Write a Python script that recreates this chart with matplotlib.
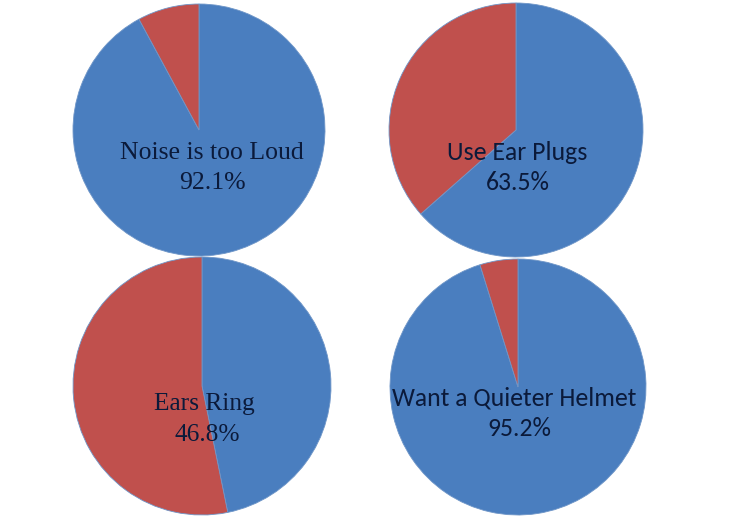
import matplotlib
matplotlib.use('Agg')
import matplotlib.pyplot as plt
from matplotlib import font_manager

installed = set(f.name for f in font_manager.fontManager.ttflist)
sans = 'Carlito' if 'Carlito' in installed else 'Lato'
serif = 'Liberation Serif'

labels = ['Noise is too Loud', 'Use Ear Plugs', 'Ears Ring', 'Want a Quieter Helmet']
yes_pct = [92.1, 63.5, 46.8, 95.2]

# layout in pixels (x, y from top), radius
centers = [(199, 130), (516, 130), (202, 386), (518, 387)]
radii = [126, 127, 129, 128]
fonts = [serif, sans, serif, sans]
sizes = [18.5, 18.5, 18.3, 18.5]
if sans != 'Carlito':
    sizes = [18.5, 17, 18.3, 17]
text_x = [(212, 212), (517, 518), (204, 207), (514, 519)]
text_y = [(153, 183), (153, 183), (404, 435), (398, 428)]

blue = '#4A7EBF'
red = '#C0504D'
txt = '#0B1A3A'

W, H = 731, 520
fig = plt.figure(figsize=(W / 100, H / 100), dpi=100)
ax = fig.add_axes([0, 0, 1, 1])

for lab, p, (cx, cy), r, fam, s, tx, ty in zip(labels, yes_pct, centers, radii, fonts, sizes, text_x, text_y):
    ax.pie([p, 100 - p], colors=[blue, red], startangle=90, counterclock=False,
           center=(cx, H - cy), radius=r, wedgeprops=dict(linewidth=0.6, edgecolor='#6f96c8'))
    ax.text(tx[0], H - ty[0], lab, ha='center', va='center', fontsize=s, family=fam, color=txt)
    ax.text(tx[1], H - ty[1], f'{p:.1f}%', ha='center', va='center', fontsize=s, family=fam, color=txt)

ax.set_xlim(0, W)
ax.set_ylim(0, H)
ax.set_aspect('equal')
ax.axis('off')

fig.savefig('out.png', dpi=100, facecolor='white')
